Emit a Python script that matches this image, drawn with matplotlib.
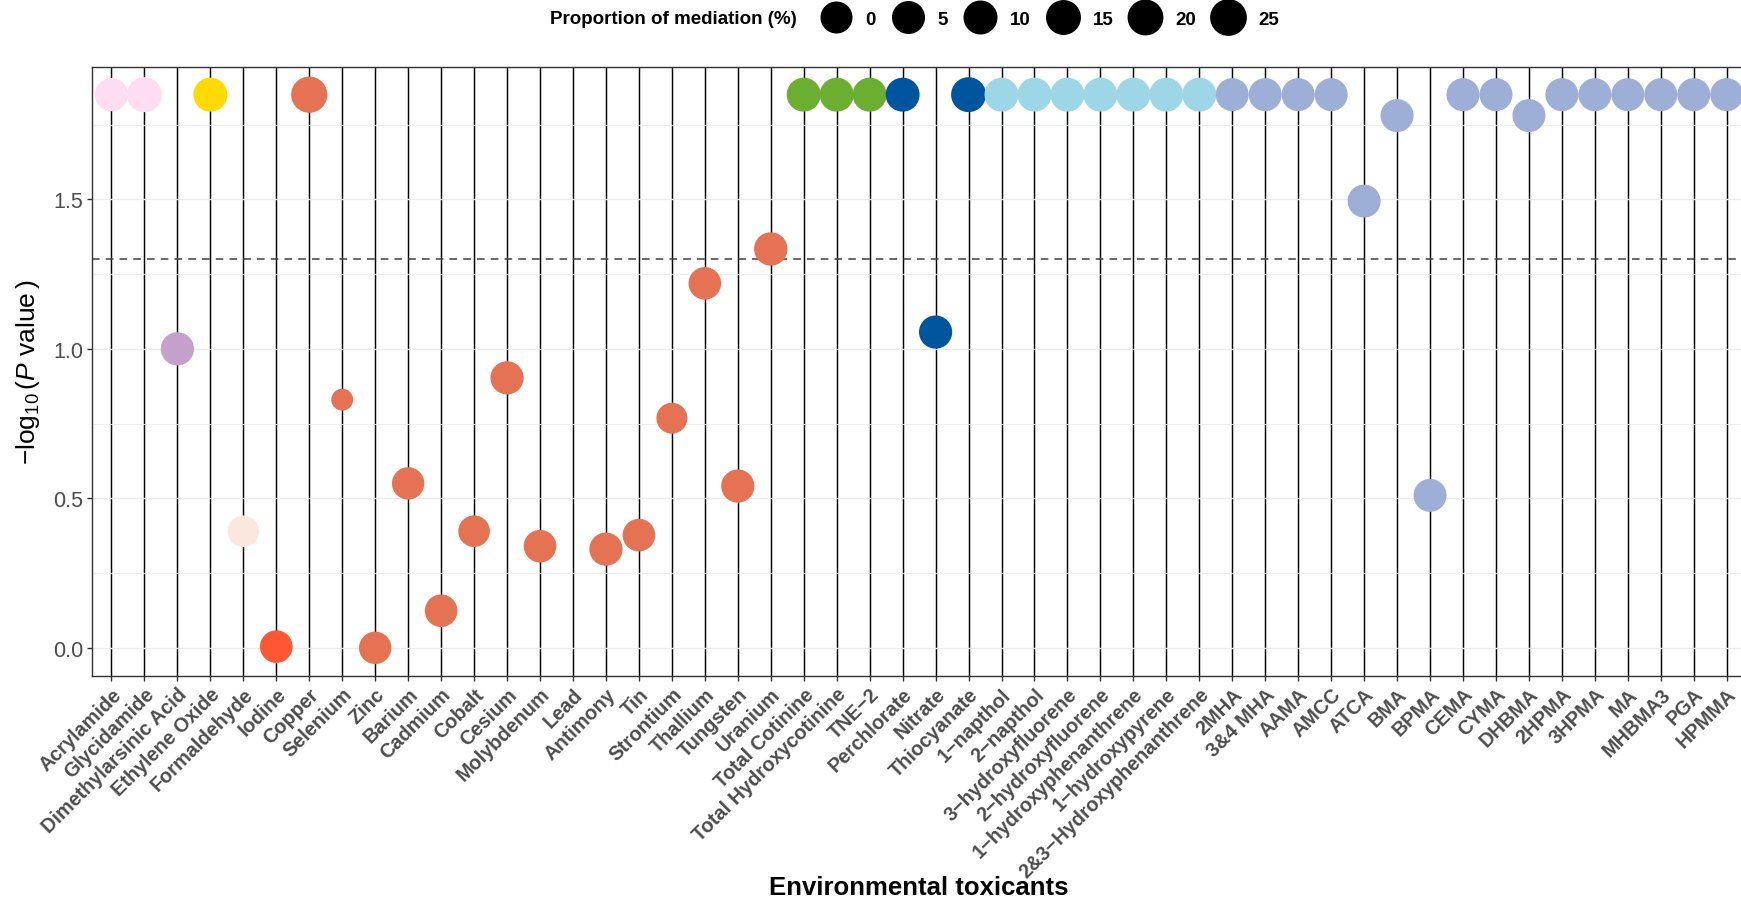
import numpy as np
import matplotlib
matplotlib.use("Agg")
import matplotlib.pyplot as plt
from matplotlib.lines import Line2D
from matplotlib.ticker import FixedLocator

# ---- data -------------------------------------------------------------
toxicants = [
    "Acrylamide", "Glycidamide", "Dimethylarsinic Acid", "Ethylene Oxide",
    "Formaldehyde", "Iodine", "Copper", "Selenium", "Zinc", "Barium",
    "Cadmium", "Cobalt", "Cesium", "Molybdenum", "Lead", "Antimony", "Tin",
    "Strontium", "Thallium", "Tungsten", "Uranium", "Total Cotinine",
    "Total Hydroxycotinine", "TNE\u22122", "Perchlorate", "Nitrate",
    "Thiocyanate", "1\u2212napthol", "2\u2212napthol", "3\u2212hydroxyfluorene",
    "2\u2212hydroxyfluorene", "1\u2212hydroxyphenanthrene", "1\u2212hydroxypyrene",
    "2&3\u2212Hydroxyphenanthrene", "2MHA", "3&4 MHA", "AAMA", "AMCC", "ATCA",
    "BMA", "BPMA", "CEMA", "CYMA", "DHBMA", "2HPMA", "3HPMA", "MA", "MHBMA3",
    "PGA", "HPMMA",
]

neg_log10_p = [
    1.85, 1.85, 1.00, 1.85,
    0.39, 0.004, 1.85, 0.83, 0.0, 0.55,
    0.124, 0.39, 0.903, 0.34, np.nan, 0.33, 0.377,
    0.768, 1.219, 0.541, 1.334, 1.85,
    1.85, 1.85, 1.85, 1.056,
    1.85, 1.85, 1.85, 1.85,
    1.85, 1.85, 1.85,
    1.85, 1.85, 1.85, 1.85, 1.85, 1.494,
    1.78, 0.51, 1.85, 1.85, 1.78, 1.85, 1.85, 1.85, 1.85,
    1.85, 1.85,
]

mediation_pct = [
    6, 15, 6, 10,
    -3, 3, 22, -42, 2, 2,
    3, -2, 6, 3, np.nan, 6, 3,
    -5, 3, 6, 7, 10,
    10, 10, 10, 6,
    15, 10, 10, 10,
    10, 10, 10,
    10, 5, 5, 5, 5, 5,
    5, 5, 5, 5, 5, 5, 5, 5, 5,
    5, 5,
]

groups = (["Acrylamide"] * 2 + ["Arsenic"] + ["Ethylene oxide"] + ["Formaldehyde"]
          + ["Iodine"] + ["Metals"] * 15 + ["Tobacco"] * 3 + ["Anions"] * 3
          + ["PAHs"] * 7 + ["VOCs"] * 16)

group_colors = {
    "Acrylamide": "#FEDDF3",
    "Arsenic": "#C4A0CA",
    "Ethylene oxide": "#FFDA00",
    "Formaldehyde": "#FCE7DE",
    "Iodine": "#FF5733",
    "Metals": "#E67254",
    "Tobacco": "#6BAF30",
    "Anions": "#00559F",
    "PAHs": "#9DD6E6",
    "VOCs": "#9DAED7",
}

legend_breaks = [0, 5, 10, 15, 20, 25]
significance = 0.05

# ---- style ------------------------------------------------------------
plt.rcParams["font.family"] = ["Liberation Sans", "DejaVu Sans"]
plt.rcParams["mathtext.fontset"] = "custom"
plt.rcParams["mathtext.rm"] = "Liberation Sans"
plt.rcParams["mathtext.it"] = "Liberation Sans:italic"
plt.rcParams["mathtext.bf"] = "Liberation Sans:bold"

DPI = 100
W, H = 1741, 904


def marker_diameter_pt(pct):
    d_px = np.sqrt(1024 + 13 * np.asarray(pct, float))
    return d_px * 72 / DPI


def marker_area(pct):
    return marker_diameter_pt(pct) ** 2


fig = plt.figure(figsize=(W / DPI, H / DPI), dpi=DPI)
ax = fig.add_axes([91.7 / W, (H - 676.5) / H, (1746.5 - 91.7) / W, 608.5 / H])

x = np.arange(len(toxicants))
y = np.array(neg_log10_p, float)
colors = [group_colors[g] for g in groups]

ax.scatter(x, y, s=marker_area(mediation_pct), c=colors, linewidths=0, zorder=3)
ax.axhline(-np.log10(significance), color="#404040", lw=1.1,
           dashes=(5, 4), zorder=2)

lo, hi = 0.0, np.nanmax(y)
pad = 0.05 * (hi - lo)
ax.set_ylim(lo - pad, hi + pad)
ax.set_xlim(-0.6, len(toxicants) - 0.4)

ax.set_xticks(x)
ax.set_xticklabels(toxicants, rotation=45, ha="right", va="top",
                   rotation_mode="anchor", fontsize=14.3, fontweight="bold",
                   color="#4D4D4D")
ax.yaxis.set_major_locator(FixedLocator([0, 0.5, 1.0, 1.5]))
ax.yaxis.set_minor_locator(FixedLocator([0.25, 0.75, 1.25, 1.75]))
ax.set_yticklabels(["0.0", "0.5", "1.0", "1.5"])
ax.tick_params(axis="y", labelsize=15.5, labelcolor="#4D4D4D")
ax.tick_params(which="major", length=3.3, width=1.0, color="#333333", pad=3)
ax.tick_params(which="minor", length=0)

ax.set_axisbelow(True)
ax.xaxis.grid(True, color="#000000", lw=1.05)
ax.yaxis.grid(True, which="major", color="#EBEBEB", lw=1.0)
ax.yaxis.grid(True, which="minor", color="#EBEBEB", lw=0.6)

for sp in ax.spines.values():
    sp.set_color("#333333")
    sp.set_linewidth(1.0)

ax.set_xlabel("Environmental toxicants", fontsize=18.5, fontweight="bold",
              va="center")
ax.xaxis.set_label_coords(0.5, (676.5 - 888) / 608.5)
ax.set_ylabel(r"$-\log_{10}(\mathit{P}\ \mathrm{value}\,)$", fontsize=19,
              va="center")
ax.yaxis.set_label_coords((28 - 91.7) / 1654.8, 0.5)

# ---- size legend --------------------------------------------------------
handles = [Line2D([], [], marker="o", ls="", color="black",
                  markeredgewidth=0, markersize=marker_diameter_pt(b))
           for b in legend_breaks]
fig.text(550 / W, 1 - 20 / H, "Proportion of mediation (%)", ha="left",
         va="center", fontsize=13.5, fontweight="bold")
fig.legend(handles, [str(b) for b in legend_breaks], ncol=len(legend_breaks),
           loc="center left", bbox_to_anchor=(816.8 / W, 1 - 20 / H),
           frameon=False, borderpad=0, borderaxespad=0, handlelength=2.0,
           handletextpad=0.6, columnspacing=0.7,
           prop={"weight": "bold", "size": 13.5})

fig.savefig("out.png", dpi=DPI)
